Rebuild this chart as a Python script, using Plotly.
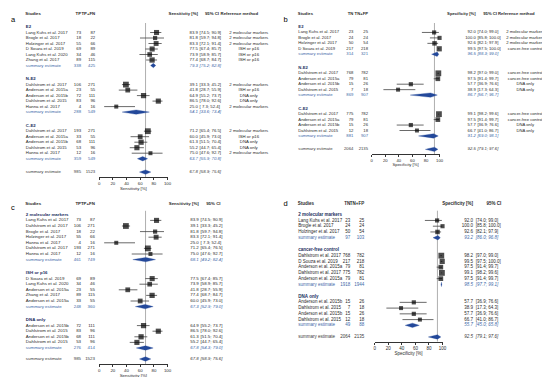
import math
import plotly.graph_objects as go

W, H = 550, 377

# ---------------- data: panel a (sensitivity, E2 subgroups) ----------------
a_group = ["E2"] * 6 + ["N-E2"] * 5 + ["C-E2"] * 5
a_study = ["Lang Kuhs et al. 2017", "Brogle et al. 2017", "Holzinger et al. 2017", "D Souza et al. 2019",
           "Lang Kuhs et al. 2020", "Zhang et al. 2017",
           "Dahlstrom et al. 2017", "Anderson et al. 2015a", "Anderson et al. 2015b", "Dahlstrom et al. 2015",
           "Hanna et al. 2017",
           "Dahlstrom et al. 2017", "Anderson et al. 2015a", "Anderson et al. 2015b", "Dahlstrom et al. 2015",
           "Hanna et al. 2017"]
a_tp = [73, 18, 55, 69, 34, 89, 106, 23, 72, 83, 4, 193, 33, 68, 53, 12]
a_n = [87, 22, 66, 89, 46, 115, 271, 55, 111, 96, 16, 271, 55, 111, 96, 16]
a_est = [83.9, 81.8, 83.3, 77.5, 73.9, 77.4, 39.1, 41.8, 64.9, 86.5, 25.0, 71.2, 60.0, 61.3, 55.2, 75.0]
a_lo = [74.5, 59.7, 72.1, 67.4, 58.9, 68.7, 33.3, 28.7, 55.2, 78.0, 7.3, 65.4, 45.9, 51.5, 44.7, 47.6]
a_hi = [90.9, 94.8, 91.4, 85.7, 85.7, 84.7, 45.2, 55.9, 73.7, 92.6, 52.4, 76.5, 73.0, 70.4, 65.4, 92.7]
a_ref = ["2 molecular markers"] * 3 + ["ISH or p16"] * 3 + \
        ["2 molecular markers", "ISH or p16", "DNA only", "DNA only", "2 molecular markers"] * 2
a_sum_group = ["E2", "N-E2", "C-E2"]
a_sum_tp = [338, 288, 359]
a_sum_n = [425, 549, 549]
a_sum_est = [79.3, 54.1, 63.7]
a_sum_lo = [75.2, 33.6, 55.9]
a_sum_hi = [82.8, 73.4, 70.8]
a_total = [985, 1523, 67.8, 58.9, 75.6]

# ---------------- data: panel b (specificity, E2 subgroups) ----------------
b_group = ["E2"] * 4 + ["N-E2"] * 4 + ["C-E2"] * 4
b_study = ["Lang Kuhs et al. 2017", "Brogle et al. 2017", "Holzinger et al. 2017", "D Souza et al. 2019"] + \
          ["Dahlstrom et al. 2017", "Anderson et al. 2015a", "Anderson et al. 2015b", "Dahlstrom et al. 2015"] * 2
b_tn = [23, 24, 50, 217, 768, 79, 15, 7, 775, 79, 15, 12]
b_n = [25, 24, 54, 218, 782, 81, 26, 18, 782, 81, 26, 18]
b_est = [92.0, 100.0, 92.6, 99.5, 98.2, 97.5, 57.7, 38.9, 99.1, 97.5, 57.7, 66.7]
b_lo = [74.0, 85.8, 82.1, 97.5, 97.0, 91.4, 36.9, 17.3, 98.2, 91.4, 36.9, 41.0]
b_hi = [99.0, 100.0, 97.9, 100.0, 99.0, 99.7, 76.6, 64.3, 99.6, 99.7, 76.6, 86.7]
b_ref = ["2 molecular markers"] * 3 + ["cancer-free control"] + \
        ["cancer-free control", "cancer-free control", "DNA only", "DNA only"] * 2
b_sum_group = ["E2", "N-E2", "C-E2"]
b_sum_tn = [314, 869, 881]
b_sum_n = [321, 907, 907]
b_sum_est = [96.5, 86.7, 91.2]
b_sum_lo = [88.3, 56.7, 69.0]
b_sum_hi = [99.0, 96.7, 98.1]
b_total = [2064, 2135, 92.5, 79.1, 97.6]

# ---------------- data: panel c (sensitivity, reference method) ----------------
c_group = ["2 molecular markers"] * 7 + ["ISH or p16"] * 5 + ["DNA only"] * 4
c_study = ["Lang Kuhs et al. 2017", "Dahlstrom et al. 2017", "Brogle et al. 2017", "Holzinger et al. 2017",
           "Hanna et al. 2017", "Dahlstrom et al. 2017", "Hanna et al. 2017",
           "D Souza et al. 2019", "Lang Kuhs et al. 2020", "Anderson et al. 2015a", "Zhang et al. 2017",
           "Anderson et al. 2015a",
           "Anderson et al. 2015b", "Dahlstrom et al. 2015", "Anderson et al. 2015b", "Dahlstrom et al. 2015"]
c_tp = [73, 106, 18, 55, 4, 193, 12, 69, 34, 23, 89, 33, 72, 83, 68, 53]
c_n = [87, 271, 22, 66, 16, 271, 16, 89, 46, 55, 115, 55, 111, 96, 111, 96]
c_est = [83.9, 39.1, 81.8, 83.3, 25.0, 71.2, 75.0, 77.5, 73.9, 41.8, 77.4, 60.0, 64.9, 86.5, 61.3, 55.2]
c_lo = [74.5, 33.3, 59.7, 72.1, 7.3, 65.4, 47.6, 67.4, 58.9, 28.7, 68.7, 45.9, 55.2, 78.0, 51.5, 44.7]
c_hi = [90.9, 45.2, 94.8, 91.4, 52.4, 76.5, 92.7, 85.7, 85.7, 55.9, 84.7, 73.0, 73.7, 92.6, 70.4, 65.4]
c_sum_group = ["2 molecular markers", "ISH or p16", "DNA only"]
c_sum_tp = [461, 248, 276]
c_sum_n = [749, 360, 414]
c_sum_est = [68.1, 67.3, 67.8]
c_sum_lo = [49.2, 52.9, 54.3]
c_sum_hi = [82.4, 79.0, 79.0]
c_total = [985, 1523, 67.8, 58.9, 75.6]

# ---------------- data: panel d (specificity, reference method) ----------------
d_group = ["2 molecular markers"] * 3 + ["cancer-free control"] * 5 + ["DNA only"] * 4
d_study = ["Lang Kuhs et al. 2017", "Brogle et al. 2017", "Holzinger et al. 2017",
           "Dahlstrom et al. 2017", "D Souza et al. 2019", "Anderson et al. 2015a", "Dahlstrom et al. 2017",
           "Anderson et al. 2015a",
           "Anderson et al. 2015b", "Dahlstrom et al. 2015", "Anderson et al. 2015b", "Dahlstrom et al. 2015"]
d_tn = [23, 24, 50, 768, 217, 79, 775, 79, 15, 7, 15, 12]
d_n = [25, 24, 54, 782, 218, 81, 782, 81, 26, 18, 26, 18]
d_est = [92.0, 100.0, 92.6, 98.2, 99.5, 97.5, 99.1, 97.5, 57.7, 38.9, 57.7, 66.7]
d_lo = [74.0, 85.8, 82.1, 97.0, 97.5, 91.4, 98.2, 91.4, 36.9, 17.3, 36.9, 41.0]
d_hi = [99.0, 100.0, 97.9, 99.0, 100.0, 99.7, 99.6, 99.7, 76.6, 64.3, 76.6, 86.7]
d_sum_group = ["2 molecular markers", "cancer-free control", "DNA only"]
d_sum_tn = [97, 1918, 49]
d_sum_n = [103, 1944, 88]
d_sum_est = [93.2, 98.5, 55.7]
d_sum_lo = [86.0, 97.7, 45.0]
d_sum_hi = [96.8, 99.1, 65.8]
d_total = [2064, 2135, 92.5, 79.1, 97.6]

# ---------------- style ----------------
FONT = "Liberation Sans, Arial, sans-serif"
C_TXT = "#2a2a2a"
C_HDR = "#1c2f5e"
C_SUM = "#4169a8"
C_DIA = "#23489a"
C_CI = "#444444"
C_VL = "#9a9a9a"
C_ALL = "#3a3a3a"

fig = go.Figure()
txt = {}


def put(x, y, s, pos, color, size):
    k = (pos, color, size)
    if k not in txt:
        txt[k] = ([], [], [])
    txt[k][0].append(x)
    txt[k][1].append(y)
    txt[k][2].append(s)


def f1(v):
    return f"{v:.1f}"


def fci(lo, hi):
    return ("[" + f"{lo:4.1f}; {hi:4.1f}" + "]").replace(" ", "\u00a0")


def panel(k, P):
    xa, ya = f"x{k}", f"y{k}"
    fs = P["fs"]
    s = P["s"]
    y = P["hy"] + P["hg"]
    rowy = [0.0] * len(P["study"])
    hdr_y, sum_y = [], []
    for g in P["sgrp"]:
        hdr_y.append(y)
        idx = [i for i, gg in enumerate(P["grp"]) if gg == g]
        for j, i in enumerate(idx):
            rowy[i] = y + s * (j + 1)
        sy = y + s * (len(idx) + 1)
        sum_y.append(sy)
        y = sy + P["gg"]
    ally = sum_y[-1] + P["og"]
    axy = ally + P["ax"]

    tot = P["tot"]
    # vertical line at overall estimate
    fig.add_trace(go.Scatter(x=[tot[2], tot[2]], y=[hdr_y[0] - 4, axy], mode="lines",
                             line=dict(color=C_VL, width=0.8), xaxis=xa, yaxis=ya,
                             hoverinfo="skip", cliponaxis=False))
    # CI lines
    cx, cy = [], []
    for lo, hi, yy in zip(P["lo"], P["hi"], rowy):
        cx += [lo, hi, None]
        cy += [yy, yy, None]
    fig.add_trace(go.Scatter(x=cx, y=cy, mode="lines", line=dict(color=C_CI, width=0.8),
                             xaxis=xa, yaxis=ya, hoverinfo="skip", cliponaxis=False))
    # squares (size by study size)
    ln = [math.log(v) for v in P["n"]]
    lmin, lmax = min(ln), max(ln)
    sizes = [4.0 + 1.8 * (v - lmin) / (lmax - lmin) for v in ln]
    fig.add_trace(go.Scatter(x=P["est"], y=rowy, mode="markers",
                             marker=dict(symbol="square", size=sizes, color="#000000", line=dict(width=0)),
                             xaxis=xa, yaxis=ya, hoverinfo="skip", cliponaxis=False))
    # diamonds
    dh = 2.2
    dx, dy = [], []
    for e, lo, hi, yy in list(zip(P["sest"], P["slo"], P["shi"], sum_y)) + [(tot[2], tot[3], tot[4], ally)]:
        dx += [lo, e, hi, e, lo, None]
        dy += [yy, yy - dh, yy, yy + dh, yy, None]
    fig.add_trace(go.Scatter(x=dx, y=dy, mode="lines", fill="toself", fillcolor=C_DIA,
                             line=dict(color=C_DIA, width=0.3), xaxis=xa, yaxis=ya,
                             hoverinfo="skip", cliponaxis=False))

    # axis
    fig.update_layout(**{
        f"xaxis{k}": dict(domain=[P["x0"] / W, P["x100"] / W], range=[0, 100], anchor=ya,
                          tickvals=[0, 20, 40, 60, 80, 100], showgrid=False, zeroline=False,
                          showline=True, linecolor="#333333", linewidth=0.8, ticks="outside",
                          ticklen=2, tickwidth=0.8, tickcolor="#333333",
                          tickfont=dict(family=FONT, size=fs, color=C_TXT), fixedrange=True),
        f"yaxis{k}": dict(domain=[1 - axy / H, 1], range=[axy, 0], anchor=xa, visible=False,
                          fixedrange=True),
    })

    # text
    C = P["cols"]
    put((P["x0"] + P["x100"]) / 2, axy + P["xt"], P["xlab"], "middle center", C_TXT, fs)
    put(C["letter"][0], C["letter"][1], P["letter"], "middle right", "#000000", 7.5)
    hy = P["hy"]
    put(C["name"] - 0.5, hy, "<b>Studies</b>", "middle right", C_TXT, fs)
    put(C["ev"], hy, f"<b>{P['evlab']}</b>", "middle left", C_TXT, fs)
    put(C["nn"], hy, f"<b>{P['nlab']}</b>", "middle left", C_TXT, fs)
    put(C["est"], hy, f"<b>{P['xlab']}</b>", "middle left", C_TXT, fs)
    put(C["cie"], hy, "<b>95% CI</b>", "middle left", C_TXT, fs)
    if P.get("ref"):
        put(C["refh"], hy, "<b>Reference method</b>", "middle right", C_TXT, fs)
    for g, yy in zip(P["sgrp"], hdr_y):
        put(C["name"], yy, f"<b>{g}</b>", "middle right", C_HDR, fs)
    for i, yy in enumerate(rowy):
        put(C["name"], yy, P["study"][i], "middle right", C_TXT, fs)
        put(C["ev"], yy, str(P["ev"][i]), "middle left", C_TXT, fs)
        put(C["nn"], yy, str(P["n"][i]), "middle left", C_TXT, fs)
        put(C["est"], yy, f1(P["est"][i]), "middle left", C_TXT, fs)
        put(C["ci"], yy, fci(P["lo"][i], P["hi"][i]), "middle right", C_TXT, fs)
        if P.get("ref"):
            put(C["ref"], yy, P["ref"][i], "middle center", C_TXT, fs)
    for i, yy in enumerate(sum_y):
        put(C["name"], yy, "summary estimate", "middle right", C_SUM, fs)
        put(C["ev"], yy, str(P["sev"][i]), "middle left", C_SUM, fs)
        put(C["nn"], yy, str(P["sn"][i]), "middle left", C_SUM, fs)
        put(C["est"], yy, f"<i>{f1(P['sest'][i])}</i>", "middle left", C_SUM, fs)
        put(C["ci"], yy, f"<i>{fci(P['slo'][i], P['shi'][i])}</i>", "middle right", C_SUM, fs)
    put(C["name"], ally, "summary estimate", "middle right", C_ALL, fs)
    put(C["ev"], ally, str(tot[0]), "middle left", C_ALL, fs)
    put(C["nn"], ally, str(tot[1]), "middle left", C_ALL, fs)
    put(C["est"], ally, f"<i>{f1(tot[2])}</i>", "middle left", C_ALL, fs)
    put(C["ci"], ally, f"<i>{fci(tot[3], tot[4])}</i>", "middle right", C_ALL, fs)


colsA = dict(letter=(2, 12.5), name=17, ev=72.7, nn=87, est=190.7, ci=192.3, cie=212, refh=213.5, ref=242)
colsB = dict(letter=(277, 12.5), name=292, ev=347.5, nn=362.3, est=471, ci=472.7, cie=492.5, refh=493.5, ref=521)
colsC = dict(letter=(2, 200), name=17, ev=72.7, nn=86.7, est=191.5, ci=193.3, cie=213.5)
colsD = dict(letter=(277, 196.5), name=292, ev=344.3, nn=358.5, est=468.3, ci=471, cie=496.7)

panel(2, dict(letter="a", grp=a_group, study=a_study, ev=a_tp, n=a_n, est=a_est, lo=a_lo, hi=a_hi, ref=a_ref,
              sgrp=a_sum_group, sev=a_sum_tp, sn=a_sum_n, sest=a_sum_est, slo=a_sum_lo, shi=a_sum_hi,
              tot=a_total, evlab="TP", nlab="TP+FN", xlab="Sensitivity [%]", fs=4.3,
              hy=6, hg=13, s=5.5, gg=13.6, og=13.4, ax=5, xt=11.5, x0=91, x100=160, cols=colsA))
panel(3, dict(letter="b", grp=b_group, study=b_study, ev=b_tn, n=b_n, est=b_est, lo=b_lo, hi=b_hi, ref=b_ref,
              sgrp=b_sum_group, sev=b_sum_tn, sn=b_sum_n, sest=b_sum_est, slo=b_sum_lo, shi=b_sum_hi,
              tot=b_total, evlab="TN", nlab="TN+FP", xlab="Specificity [%]", fs=4.2,
              hy=6, hg=13, s=5.45, gg=13.6, og=13.4, ax=5, xt=11, x0=366, x100=434.5, cols=colsB))
panel(4, dict(letter="c", grp=c_group, study=c_study, ev=c_tp, n=c_n, est=c_est, lo=c_lo, hi=c_hi,
              sgrp=c_sum_group, sev=c_sum_tp, sn=c_sum_n, sest=c_sum_est, slo=c_sum_lo, shi=c_sum_hi,
              tot=c_total, evlab="TP", nlab="TP+FN", xlab="Sensitivity [%]", fs=4.4,
              hy=195.5, hg=11.3, s=5.6, gg=13.4, og=11, ax=5, xt=11.6, x0=91, x100=160, cols=colsC))
panel(5, dict(letter="d", grp=d_group, study=d_study, ev=d_tn, n=d_n, est=d_est, lo=d_lo, hi=d_hi,
              sgrp=d_sum_group, sev=d_sum_tn, sn=d_sum_n, sest=d_sum_est, slo=d_sum_lo, shi=d_sum_hi,
              tot=d_total, evlab="TN", nlab="TN+FP", xlab="Specificity [%]", fs=4.5,
              hy=196, hg=10.7, s=5.75, gg=12.2, og=11.6, ax=4.7, xt=12.5, x0=369, x100=437.5, cols=colsD))

for (pos, color, size), (xs, ys, ss) in txt.items():
    fig.add_trace(go.Scatter(x=xs, y=ys, text=ss, mode="text", textposition=pos,
                             textfont=dict(family=FONT, size=size, color=color),
                             xaxis="x", yaxis="y", hoverinfo="skip", cliponaxis=False))

fig.update_layout(
    width=W, height=H, margin=dict(l=0, r=0, t=0, b=0),
    paper_bgcolor="white", plot_bgcolor="rgba(0,0,0,0)", showlegend=False,
    xaxis=dict(domain=[0, 1], range=[0, W], visible=False, anchor="y", fixedrange=True),
    yaxis=dict(domain=[0, 1], range=[H, 0], visible=False, anchor="x", fixedrange=True),
)

fig.write_html("out.html")
